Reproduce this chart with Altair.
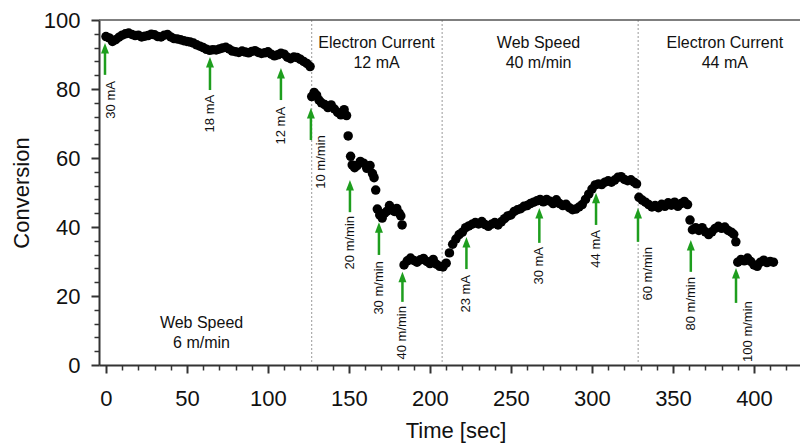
import altair as alt
import pandas as pd

FONT = "Liberation Sans"
GREEN = "#1e9e1e"

# ---- measured series (Time [sec], Conversion) ----
seg_a_time = [0, 2, 4, 6, 8, 10, 12, 14, 16, 18, 20, 22, 24, 26, 28, 30, 32, 34, 36, 38,
              40, 42, 44, 46, 48, 50, 52, 54, 56, 58, 60, 62, 64, 66, 68, 70, 72, 74, 76, 78,
              80, 82, 84, 86, 88, 90, 92, 94, 96, 98, 100, 102, 104, 106, 108, 110, 112, 114,
              116, 118, 120, 122, 124, 126]
seg_a_conv = [95.2, 94.8, 93.8, 94.3, 95.0, 95.6, 96.0, 96.2, 95.8, 95.5, 95.6, 95.1, 95.3, 95.5,
              95.9, 95.7, 95.2, 95.1, 95.6, 95.8, 95.1, 94.6, 94.5, 94.3, 94.0, 93.8, 93.6, 93.3,
              92.8, 92.4, 92.0, 91.5, 91.2, 91.4, 91.3, 91.6, 91.9, 92.1, 91.6, 91.0, 90.8, 90.6,
              91.0, 90.7, 90.5, 90.9, 91.1, 90.6, 90.3, 90.5, 90.8, 90.1, 89.6, 89.9, 90.4, 90.1,
              89.2, 88.8, 89.3, 89.1, 88.6, 88.0, 87.4, 86.5]

seg_b_time = [127, 128.5, 130, 131.5, 133, 135, 137, 139, 141, 143, 145, 147, 148.5, 149.5]
seg_b_conv = [77.8, 79.0, 78.2, 76.8, 76.0, 75.5, 74.6, 75.4, 74.2, 73.2, 72.5, 74.0, 72.3, 66.4]

seg_c_time = [151, 152, 153.5, 155, 157, 159, 161, 163, 164.5, 165.5, 166.5]
seg_c_conv = [60.5, 58.0, 57.2, 57.8, 59.0, 58.5, 57.0, 57.8, 55.5, 54.3, 50.7]

seg_d_time = [167.5, 169, 170.5, 172, 173.5, 175, 176.5, 178, 179.5, 181, 182, 182.8]
seg_d_conv = [45.2, 43.5, 42.6, 44.0, 44.6, 46.2, 45.0, 44.5, 45.4, 44.0, 43.2, 40.6]

seg_e_time = [184, 186, 188, 190, 192, 194, 196, 198, 200, 202, 204, 206, 208, 210]
seg_e_conv = [29.0, 30.2, 31.0, 30.3, 29.8, 30.5, 30.9, 30.0, 29.4, 30.6, 29.2, 28.6, 28.4, 29.5]

seg_f_time = [212, 214, 216, 218, 220, 222, 224, 226, 228, 230, 232, 234, 236, 238, 240, 242,
              244, 246, 248, 250, 252, 254, 256, 258, 260, 262, 264, 266, 268, 270, 272, 274,
              276, 278, 280, 282, 284, 286, 288, 290, 292, 294, 296, 298, 300, 302, 304, 306,
              308, 310, 312, 314, 316, 318, 320, 322, 324, 326, 327.5]
seg_f_conv = [32.5, 35.0, 36.5, 37.8, 38.5, 39.8, 40.3, 40.8, 41.3, 40.9, 41.6, 40.7, 40.2, 40.8,
              41.3, 40.6, 41.5, 42.4, 43.2, 43.5, 44.5, 45.0, 45.3, 46.0, 46.2, 46.8, 47.2, 47.6,
              48.0, 47.3, 48.0, 47.5, 46.8, 47.9, 46.8, 46.2, 46.6, 45.6, 45.0, 45.2, 45.8, 46.5,
              48.0, 49.5, 51.0, 52.2, 52.5, 52.3, 53.0, 53.4, 53.0, 53.6, 54.4, 54.6, 53.8, 53.4,
              53.7, 53.0, 52.5]

seg_g_time = [329, 331, 333, 335, 337, 339, 341, 343, 345, 347, 349, 351, 353, 355, 357, 359, 360.5]
seg_g_conv = [48.6, 47.8, 47.2, 46.5, 45.8, 46.2, 45.6, 46.6, 46.0, 47.0, 46.3, 47.2, 46.0, 46.8,
              47.4, 46.5, 42.0]

seg_h_time = [362, 364, 366, 368, 370, 372, 374, 376, 378, 380, 382, 384, 386, 387.5, 388.8]
seg_h_conv = [39.2, 39.8, 39.0, 39.8, 38.6, 37.8, 38.6, 39.6, 40.2, 39.6, 40.0, 39.0, 38.5, 37.9, 35.7]

seg_i_time = [390, 392, 394, 396, 398, 400, 402, 404, 406, 408, 410, 412]
seg_i_conv = [29.8, 30.6, 30.2, 31.0, 30.0, 29.0, 28.6, 29.8, 30.4, 29.7, 30.0, 29.8]

# ---- arrows ----
arrow_label = ["30 mA", "18 mA", "12 mA", "10 m/min", "20 m/min", "30 m/min", "40 m/min",
               "23 mA", "30 mA", "44 mA", "60 m/min", "80 m/min", "100 m/min"]
arrow_time = [-0.6, 64.2, 108, 126.5, 150.6, 168.5, 183, 222.5, 267.5, 302.5, 328.4, 361, 388.9]
arrow_tip = [93.3, 89.3, 86.1, 74.5, 53.6, 41.4, 27.0, 37.1, 45.5, 49.9, 45.5, 36.2, 28.1]
arrow_base = [84.1, 79.7, 76.8, 65.2, 44.3, 31.9, 18.3, 27.8, 35.4, 40.6, 35.7, 27.0, 18.0]
label_time = [3.1, 64.2, 108, 132.7, 150.6, 168.5, 183, 222.5, 267.5, 302.5, 334.6, 361, 396.3]
label_top = [82.3, 78.3, 74.8, 66.6, 43.2, 30.1, 17.1, 26.1, 34.2, 39.1, 34.2, 25.5, 18.5]

# ---- phase boundaries and phase captions ----
boundary_time = [127, 207.5, 328.5]
caption_text = ["Electron Current", "12 mA", "Web Speed", "40 m/min",
                "Electron Current", "44 mA", "Web Speed", "6 m/min"]
caption_time = [167, 167, 267, 267, 382, 382, 59, 59]
caption_conv = [93.3, 87.5, 93.3, 87.5, 93.3, 87.5, 12.2, 6.4]

x_major_ticks = [0, 50, 100, 150, 200, 250, 300, 350, 400]
x_minor_ticks = [10, 20, 30, 40, 60, 70, 80, 90, 110, 120, 130, 140, 160, 170, 180, 190,
                 210, 220, 230, 240, 260, 270, 280, 290, 310, 320, 330, 340, 360, 370, 380,
                 390, 410, 420]
y_major_ticks = [0, 20, 40, 60, 80, 100]
y_minor_ticks = [4, 8, 12, 16, 24, 28, 32, 36, 44, 48, 52, 56, 64, 68, 72, 76, 84, 88, 92, 96]

time = (seg_a_time + seg_b_time + seg_c_time + seg_d_time + seg_e_time + seg_f_time
        + seg_g_time + seg_h_time + seg_i_time)
conv = (seg_a_conv + seg_b_conv + seg_c_conv + seg_d_conv + seg_e_conv + seg_f_conv
        + seg_g_conv + seg_h_conv + seg_i_conv)
series = pd.DataFrame({"time": time, "conversion": conv})
arrows = pd.DataFrame({"label": arrow_label, "time": arrow_time, "tip": arrow_tip,
                       "base": arrow_base, "ltime": label_time, "ltop": label_top})
bounds = pd.DataFrame({"time": boundary_time})
captions = pd.DataFrame({"text": caption_text, "time": caption_time, "conv": caption_conv})
top = pd.DataFrame({"v": [100]})

W, H = 701, 345
xs = alt.Scale(domain=[-4.3, 428.4], nice=False, zero=False)
ys = alt.Scale(domain=[0, 100], nice=False, zero=False)

x_axis = alt.Axis(values=x_major_ticks, orient="bottom", grid=False, tickSize=8, tickWidth=2,
                  tickColor="#333", domainColor="#333", domainWidth=2,
                  labelFont=FONT, labelFontSize=22, labelColor="#111", labelPadding=32,
                  labelBaseline="alphabetic", labelFlush=False,
                  title="Time [sec]", titleFont=FONT, titleFontSize=22, titleFontWeight="normal",
                  titleColor="#111", titleX=356.5, titleY=72.5, titleBaseline="alphabetic")
y_axis = alt.Axis(values=y_major_ticks, orient="left", grid=False, tickSize=8, tickWidth=2,
                  tickColor="#333", domainColor="#333", domainWidth=2,
                  labelFont=FONT, labelFontSize=22, labelColor="#111", labelPadding=11,
                  labelFlush=False,
                  title="Conversion", titleFont=FONT, titleFontSize=22, titleFontWeight="normal",
                  titleColor="#111", titleAngle=270, titleX=-71, titleY=172.5,
                  titleBaseline="alphabetic", titleAlign="center")
x_minor = alt.Axis(values=x_minor_ticks, orient="bottom", grid=False, tickSize=5, tickWidth=1.5,
                   tickColor="#333", domain=False, labels=False, title=None)
y_minor = alt.Axis(values=y_minor_ticks, orient="left", grid=False, tickSize=5, tickWidth=1.5,
                   tickColor="#333", domain=False, labels=False, title=None)

bound_layer = alt.Chart(bounds).mark_rule(color="#9a9a9a", strokeWidth=1, strokeDash=[2, 2]).encode(
    x=alt.X("time:Q", scale=xs, axis=None))
top_layer = alt.Chart(top).mark_rule(color="#555", strokeWidth=1.5).encode(
    y=alt.Y("v:Q", scale=ys, axis=None))
points = alt.Chart(series).mark_circle(size=90, color="black", opacity=1).encode(
    x=alt.X("time:Q", scale=xs, axis=x_axis),
    y=alt.Y("conversion:Q", scale=ys, axis=y_axis))
minor = alt.Chart(series).mark_circle(opacity=0).encode(
    x=alt.X("time:Q", scale=xs, axis=x_minor),
    y=alt.Y("conversion:Q", scale=ys, axis=y_minor))
shafts = alt.Chart(arrows).transform_calculate(shaft_end="datum.tip - 2.2").mark_rule(
    color=GREEN, strokeWidth=2.5).encode(
    x=alt.X("time:Q", scale=xs, axis=None),
    y=alt.Y("base:Q", scale=ys, axis=None),
    y2="shaft_end:Q")
heads = alt.Chart(arrows).mark_point(shape="M0,0L0.8,2.1L-0.8,2.1Z", size=100, filled=True,
                                     color=GREEN, opacity=1, strokeWidth=0).encode(
    x=alt.X("time:Q", scale=xs, axis=None),
    y=alt.Y("tip:Q", scale=ys, axis=None))
labels = alt.Chart(arrows).mark_text(angle=270, align="right", baseline="middle", font=FONT,
                                     fontSize=13, color="#111").encode(
    x=alt.X("ltime:Q", scale=xs, axis=None),
    y=alt.Y("ltop:Q", scale=ys, axis=None),
    text="label:N")
caps = alt.Chart(captions).mark_text(align="center", baseline="middle", font=FONT,
                                     fontSize=16, color="#111").encode(
    x=alt.X("time:Q", scale=xs, axis=None),
    y=alt.Y("conv:Q", scale=ys, axis=None),
    text="text:N")

chart = alt.layer(bound_layer, top_layer, points, minor, shafts, heads, labels, caps).resolve_axis(
    x="independent", y="independent").properties(
    width=W, height=H,
    autosize=alt.AutoSizeParams(type="none"),
    padding={"left": 99, "top": 20, "right": 0, "bottom": 79},
    background="white").configure_view(stroke=None)

chart.save("out.html", embed_options={"renderer": "svg", "actions": False})
